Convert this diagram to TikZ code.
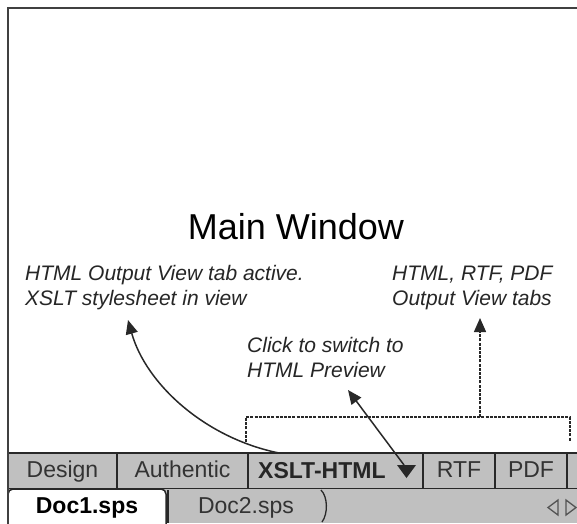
\documentclass[tikz,border=0pt]{standalone}
\usepackage{fontspec}
\setmainfont{Liberation Sans}
\usetikzlibrary{arrows.meta}
\definecolor{tabgray}{HTML}{C0C0C0}
\definecolor{edge}{HTML}{282828}
\definecolor{frame}{HTML}{404040}
\tikzset{
  tabbox/.style={draw=edge, line width=1.5pt, fill=tabgray, minimum height=36pt, inner sep=0pt,
    font=\fontsize{23}{26}\selectfont, text height=17pt, text depth=5pt, text=black!80},
  label/.style={font=\fontsize{21}{25}\selectfont\itshape, text=black!85, inner sep=0pt, anchor=base west},
  arr/.style={line width=1.5pt, draw=edge, -{Triangle[length=14pt,width=12pt]}},
  dotline/.style={line width=1.5pt, draw=edge, dash pattern=on 3pt off 1.2pt},
}
\begin{document}
\begin{tikzpicture}[x=1pt,y=-1pt]
\useasboundingbox (0,0) rectangle (577,523);
\clip (0,0) rectangle (577,523);
\fill[white] (0,0) rectangle (577,523);

% title
\node[font=\fontsize{36}{40}\selectfont, inner sep=0pt, anchor=base] (title) at (296,239) {Main Window};

% labels
\node[label] (lbl1) at (25,280) {HTML Output View tab active.};
\node[label] (lbl2) at (25,305) {XSLT stylesheet in view};
\node[label] (lbr1) at (392,280) {HTML, RTF, PDF};
\node[label] (lbr2) at (392,305) {Output View tabs};
\node[label] (lbc1) at (247,352) {Click to switch to};
\node[label] (lbc2) at (247,377) {HTML Preview};

% tab row 1
\node[tabbox, minimum width=109pt] (design) at (62.5,471) {Design};
\node[tabbox, minimum width=131pt] (authentic) at (182.5,471) {Authentic};
\node[tabbox, minimum width=175pt] (xslt) at (335.5,471) {};
\node[tabbox, minimum width=72pt] (rtf) at (459,471) {RTF};
\node[tabbox, minimum width=72pt] (pdf) at (531,471) {PDF};
\node[tabbox, minimum width=40pt] (more) at (587,471) {};
\node[font=\fontsize{23}{26}\selectfont\bfseries, inner sep=0pt, anchor=base west, text=black!85] (xslttext) at (258,478) {XSLT-HTML};
\fill[edge] (397,465) -- (416,465) -- (406.5,478) -- cycle;
\coordinate (tri) at (404,465);

% tab row 2
\fill[tabgray] (8,489) rectangle (577,523);
\draw[draw=edge, line width=1.5pt, fill=white, rounded corners=5pt] (8,530) -- (8,489) -- (166,489) -- (166,530);
\node[font=\fontsize{23}{26}\selectfont\bfseries, inner sep=0pt, anchor=base, text=black] (doc1) at (87,513) {Doc1.sps};
\draw[draw=edge, line width=1.3pt] (168,490) -- (168,523);
\draw[draw=edge, line width=1.3pt] (321,490) .. controls (328,497) and (328,514) .. (322,522);
\node[font=\fontsize{23}{26}\selectfont, inner sep=0pt, anchor=base, text=black!80] (doc2) at (246,513) {Doc2.sps};
\draw[draw=edge!80, line width=1.3pt] (558,500) -- (548,507.5) -- (558,515) -- cycle;
\draw[draw=edge!80, line width=1.3pt] (566,500) -- (576,507.5) -- (566,515) -- cycle;

% frame
\draw[frame, line width=2.2pt] (8,530) -- (8,8) -- (580,8);

% dotted bracket
\coordinate (bl) at (246,442);
\coordinate (br) at (570,441);
\coordinate (bm) at (480,417);
\coordinate (tabstip) at (480,318);
\draw[dotline] (bl) -- (246,417) -- (570,417) -- (br);
\draw[dotline, arr] (bm) -- (tabstip);

% arrows
\coordinate (curvestart) at (279,453);
\coordinate (curvetip) at (128,320);
\draw[arr] (curvestart) .. controls (205,438) and (146,384) .. (curvetip);
\coordinate (clicktip) at (348,390);
\draw[arr] (tri) -- (clicktip);
\end{tikzpicture}
\end{document}
